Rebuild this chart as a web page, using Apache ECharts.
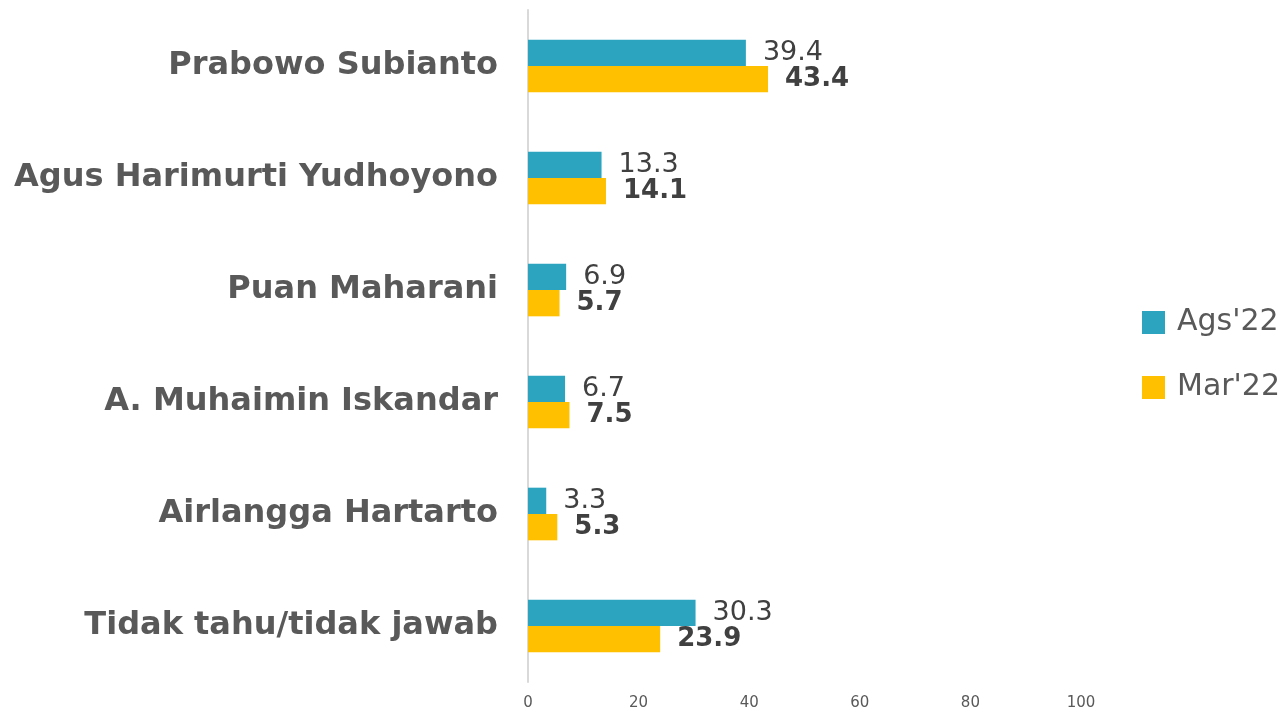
<!DOCTYPE html>
<html>
<head>
<meta charset="utf-8">
<script src="https://cdn.jsdelivr.net/npm/echarts@6/dist/echarts.min.js"></script>
<style>
  html, body { margin: 0; padding: 0; background: #fff; }
  #chart { width: 1284px; height: 711px; }
</style>
</head>
<body>
<div id="chart"></div>
<script>
// categories top to bottom
const candidates = [
  'Prabowo Subianto',
  'Agus Harimurti Yudhoyono',
  'Puan Maharani',
  'A. Muhaimin Iskandar',
  'Airlangga Hartarto',
  'Tidak tahu/tidak jawab'
]
const ags22 = [39.4, 13.3, 6.9, 6.7, 3.3, 30.3]
const mar22 = [43.4, 14.1, 5.7, 7.5, 5.3, 23.9]
const xTicks = [0, 20, 40, 60, 80, 100]

const chart = echarts.init(document.getElementById('chart'))
chart.setOption({
  animation: false,
  textStyle: { fontFamily: 'DejaVu Sans' },
  grid: { left: 528, right: 203, top: 10, bottom: 29, containLabel: false },
  legend: {
    orient: 'vertical',
    left: 1142,
    top: 307,
    padding: 0,
    itemWidth: 23,
    itemHeight: 23,
    itemGap: 34,
    icon: 'rect',
    textStyle: { fontSize: 30, lineHeight: 31, color: '#595959', fontFamily: 'DejaVu Sans', padding: [0, 0, 0, 7] },
    data: ["Ags'22", "Mar'22"]
  },
  xAxis: {
    type: 'value',
    min: xTicks[0],
    max: xTicks[xTicks.length - 1],
    interval: 20,
    axisLine: { show: false },
    axisTick: { show: false },
    splitLine: { show: false },
    axisLabel: { color: '#595959', fontSize: 15, margin: 14 }
  },
  yAxis: {
    type: 'category',
    inverse: true,
    data: candidates,
    axisLine: { show: true, lineStyle: { color: '#d9d9d9', width: 2 } },
    axisTick: { show: false },
    axisLabel: {
      color: '#595959',
      fontSize: 32,
      fontWeight: 'bold',
      margin: 30,
      padding: [4, 0, 0, 0]
    }
  },
  series: [
    {
      name: "Ags'22",
      type: 'bar',
      data: ags22,
      barGap: '0%',
      barCategoryGap: '53%',
      itemStyle: { color: '#2ca4c0' },
      label: {
        show: true,
        position: 'right',
        distance: 17,
        color: '#404040',
        fontSize: 27
      }
    },
    {
      name: "Mar'22",
      type: 'bar',
      data: mar22,
      barGap: '0%',
      barCategoryGap: '53%',
      itemStyle: { color: '#ffc000' },
      label: {
        show: true,
        position: 'right',
        distance: 17,
        color: '#404040',
        fontSize: 26,
        fontWeight: 'bold'
      }
    }
  ]
})
</script>
</body>
</html>
